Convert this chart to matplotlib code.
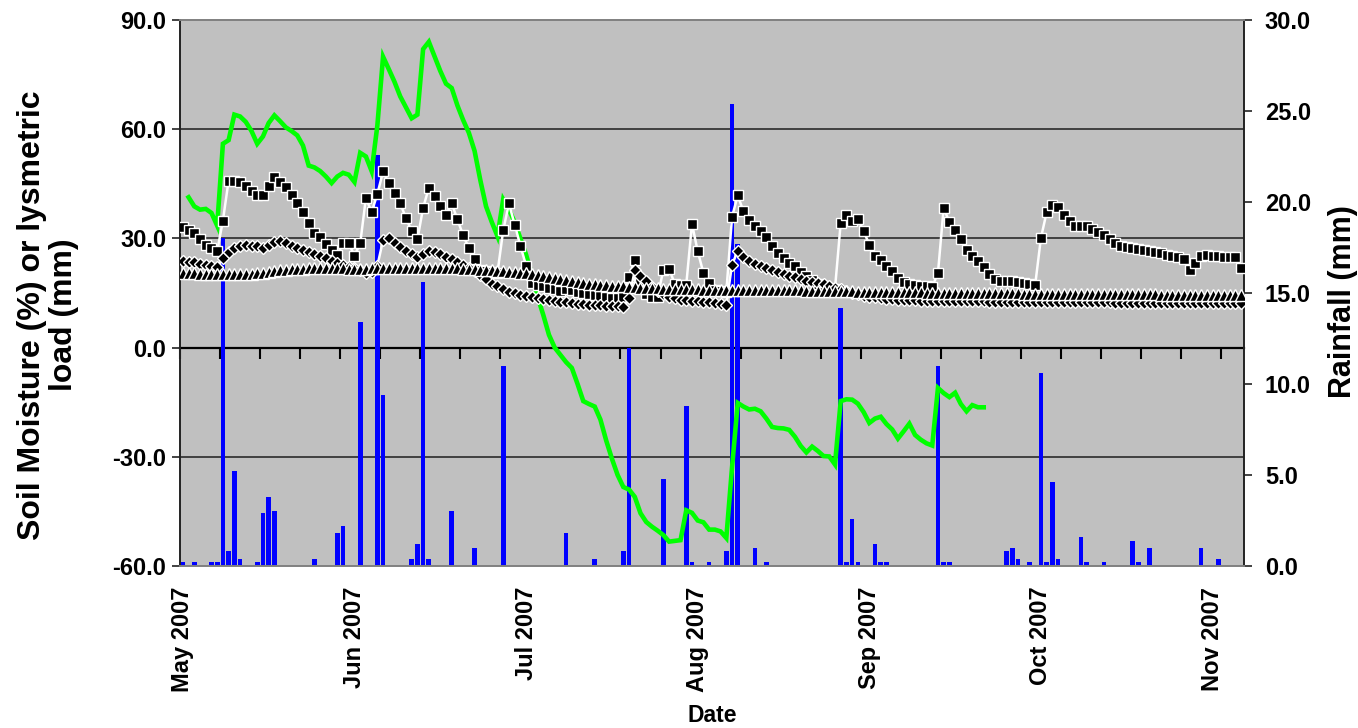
import matplotlib
matplotlib.use('Agg')
import matplotlib.pyplot as plt
import numpy as np
from matplotlib.lines import Line2D
from matplotlib.transforms import blended_transform_factory

# ---------------- data ----------------
n_days = 186  # daily categories starting 1 May 2007
day_index = list(range(n_days))
xtick_pos = [0, 30, 60, 90, 120, 150, 180]
xtick_labels = ["May 2007", "Jun 2007", "Jul 2007", "Aug 2007", "Sep 2007", "Oct 2007", "Nov 2007"]

rain_days = [0, 2, 5, 6, 7, 8, 9, 10, 13, 14, 15, 16, 23, 27, 28, 31, 34, 35, 40, 41, 42, 43,
             47, 51, 56, 67, 72, 77, 78, 84, 88, 89, 92, 95, 96, 97, 100, 102, 115, 116, 117,
             118, 121, 122, 123, 132, 133, 134, 144, 145, 146, 148, 150, 151, 152, 153, 157,
             158, 161, 166, 167, 169, 178, 181]
rain_mm = [0.2, 0.2, 0.2, 0.2, 18.0, 0.8, 5.2, 0.4, 0.2, 2.9, 3.8, 3.0, 0.4, 1.8, 2.2, 13.4,
           22.6, 9.4, 0.4, 1.2, 15.6, 0.4, 3.0, 1.0, 11.0, 1.8, 0.4, 0.8, 12.0, 4.8, 8.8, 0.2,
           0.2, 0.8, 25.4, 17.7, 1.0, 0.2, 14.2, 0.2, 2.6, 0.2, 1.2, 0.2, 0.2, 11.0, 0.2, 0.2,
           0.8, 1.0, 0.4, 0.2, 10.6, 0.2, 4.6, 0.4, 1.6, 0.2, 0.2, 1.4, 0.2, 1.0, 1.0, 0.4]

lys_days = list(range(1, 141))
lys_load = [41.3, 38.8, 37.9, 38.1, 37.0, 33.5, 56.0, 57.0, 64.0, 63.5,
            62.0, 59.5, 56.0, 58.0, 61.7, 63.8, 62.2, 60.5, 59.5, 58.3,
            55.5, 50.0, 49.5, 48.5, 47.0, 45.2, 47.0, 48.0, 47.5, 45.5,
            53.5, 52.5, 48.5, 61.0, 79.9, 76.5, 73.0, 69.0, 66.0, 63.0,
            64.0, 82.0, 84.0, 80.0, 76.0, 72.5, 71.3, 66.5, 62.5, 59.0,
            54.0, 46.0, 38.8, 34.5, 30.6, 40.7, 37.9, 34.5, 30.0, 25.5,
            20.0, 14.0, 9.0, 3.5, 0.0, -2.0, -4.0, -5.6, -10.0, -14.7,
            -15.5, -16.2, -19.8, -25.5, -30.5, -35.0, -38.3, -39.0, -41.0, -45.5,
            -47.9, -49.2, -50.3, -51.5, -53.3, -53.1, -52.9, -44.7, -45.4, -47.5,
            -48.0, -50.0, -50.0, -50.5, -52.3, -33.0, -15.2, -16.2, -17.0, -16.8,
            -17.5, -19.5, -21.8, -22.1, -22.2, -22.6, -24.5, -27.0, -28.8, -27.2,
            -28.4, -29.8, -29.9, -32.1, -14.7, -14.2, -14.3, -15.4, -17.7, -20.7,
            -19.5, -19.0, -21.0, -22.5, -25.0, -23.0, -20.9, -24.0, -25.3, -26.3,
            -26.9, -11.1, -12.5, -13.6, -12.4, -15.5, -17.5, -15.8, -16.4, -16.4]

sm_squares = [33.0, 32.4, 31.5, 29.9, 28.3, 27.4, 26.5, 34.9, 45.9, 45.9,
              45.5, 44.3, 43.0, 42.0, 42.0, 44.3, 46.9, 45.5, 44.1, 42.0,
              39.7, 37.2, 34.1, 31.5, 30.4, 28.5, 26.9, 25.5, 28.6, 28.6,
              25.3, 28.6, 41.1, 37.2, 42.2, 48.4, 45.2, 42.5, 39.6, 35.6,
              32.0, 29.7, 38.4, 43.9, 41.6, 38.8, 36.5, 39.6, 35.2, 30.8,
              27.4, 24.4, 21.4, 21.0, 20.8, 20.6, 32.2, 39.6, 33.8, 28.0,
              22.5, 17.8, 17.1, 16.8, 16.3, 16.0, 15.5, 16.2, 15.8, 15.2,
              15.0, 14.6, 14.4, 14.1, 13.9, 13.7, 13.6, 14.0, 19.5, 24.2,
              18.5, 14.8, 14.0, 14.0, 21.4, 21.6, 17.5, 17.2, 17.3, 34.0,
              26.5, 20.5, 17.8, 15.9, 15.5, 15.2, 35.9, 41.8, 37.4, 35.0,
              33.3, 32.0, 30.4, 27.8, 26.0, 24.6, 23.3, 22.3, 20.7, 19.6,
              18.5, 17.5, 17.0, 16.5, 16.2, 34.3, 36.5, 34.7, 35.4, 32.0,
              28.3, 25.3, 24.2, 22.5, 21.0, 19.1, 17.9, 17.6, 17.3, 17.0,
              16.9, 16.7, 20.5, 38.4, 34.4, 32.2, 29.7, 26.9, 25.1, 23.7,
              22.2, 20.3, 18.9, 18.2, 18.2, 18.2, 17.9, 17.7, 17.6, 17.3,
              30.1, 37.2, 39.3, 38.6, 36.5, 34.7, 33.3, 33.5, 33.3, 32.6,
              31.7, 30.8, 29.9, 28.8, 27.8, 27.6, 27.4, 27.2, 26.9, 26.6,
              26.2, 26.0, 25.5, 25.3, 25.0, 24.4, 21.4, 23.3, 25.3, 25.5,
              25.1, 25.3, 24.8, 24.9, 24.9, 21.9]

sm_diamonds = [23.8, 23.6, 23.4, 23.1, 22.8, 22.5, 22.2,
               24.5, 26.2, 27.5, 28.0, 28.2, 28.0, 27.8, 27.5, 28.3, 29.0, 29.2, 28.6, 28.0,
               27.4, 26.9, 26.3, 25.8, 25.2, 24.5, 23.8, 23.2, 22.6, 22.2,
               21.8, 21.2, 20.6, 20.8, 22.5, 29.5, 30.1, 28.8, 27.6, 26.5,
               25.6, 25.0, 25.8, 26.5, 26.3, 25.7, 25.0, 24.4, 23.6, 22.8,
               21.9, 21.0, 20.0, 18.9, 17.6, 16.8, 16.0, 15.4, 14.9, 14.5,
               14.2, 13.9, 13.6, 13.4, 13.1, 12.8, 12.6, 12.4, 12.2, 12.1,
               12.0, 11.8, 11.7, 11.6, 11.5, 11.4, 11.3, 11.2, 13.6, 21.2,
               19.6, 18.2, 16.6, 15.5, 14.6, 14.0, 13.6, 13.2, 13.0, 12.9,
               12.8, 12.6, 12.4, 12.2, 12.0, 11.8, 22.8, 26.5, 24.9, 23.9,
               23.0, 22.3, 21.8, 21.2, 20.7, 20.2, 19.7, 19.3, 18.9, 18.4,
               18.0, 17.8, 17.4, 17.0, 16.5, 16.0, 15.5, 15.0, 14.6, 14.3,
               14.0, 13.8, 13.6, 13.4, 13.3, 13.2, 13.1, 13.0, 13.0, 12.9,
               12.9, 12.9, 12.8, 12.8, 12.8, 12.8, 12.7, 12.7, 12.7, 12.7,
               12.7, 12.6, 12.6, 12.6, 12.6, 12.6, 12.5, 12.5, 12.5, 12.5,
               12.5, 12.5, 12.5, 12.5, 12.4, 12.4, 12.4, 12.4, 12.4, 12.4,
               12.4, 12.4, 12.4, 12.3, 12.3, 12.3, 12.3, 12.3, 12.3, 12.3,
               12.3, 12.3, 12.3, 12.3, 12.2, 12.2, 12.2, 12.2, 12.2, 12.2,
               12.2, 12.2, 12.2, 12.2, 12.2, 12.2]

sm_triangles = [20.5, 20.4, 20.4, 20.3, 20.3, 20.2, 20.2, 20.1, 20.1, 20.1,
                20.2, 20.2, 20.3, 20.4, 20.6, 20.8, 21.0, 21.2, 21.4, 21.5,
                21.6, 21.7, 21.8, 21.8, 21.9, 21.9, 21.9, 21.8, 21.8, 21.7,
                21.6, 21.6, 21.7, 21.8, 21.9, 22.0, 22.0, 22.0, 22.0, 21.9,
                21.9, 21.9, 21.9, 22.0, 22.0, 22.0, 21.9, 21.9, 21.8, 21.7,
                21.6, 21.5, 21.4, 21.3, 21.2, 21.1, 21.0, 20.9, 20.8, 20.6,
                20.4, 20.2, 20.0, 19.7, 19.4, 19.1, 18.8, 18.5, 18.2, 18.0,
                17.8, 17.6, 17.4, 17.2, 17.1, 17.0, 16.9, 16.8, 16.7, 16.6,
                16.5, 16.4, 16.4, 16.3, 16.2, 16.2, 16.1, 16.1, 16.0, 16.0,
                16.0, 15.9, 15.9, 15.9, 15.8, 15.8, 15.8, 15.8, 15.8, 15.8,
                15.8, 15.8, 15.8, 15.8, 15.7, 15.7, 15.7, 15.7, 15.7, 15.6,
                15.6, 15.6, 15.6, 15.5, 15.5, 15.5, 15.5, 15.5, 15.4, 15.4,
                15.4, 15.4, 15.3, 15.3, 15.3, 15.3, 15.2, 15.2, 15.2, 15.2,
                15.1, 15.1, 15.1, 15.1, 15.1, 15.0, 15.0, 15.0, 15.0, 15.0,
                15.0, 14.9, 14.9, 14.9, 14.9, 14.9, 14.9, 14.8, 14.8, 14.8,
                14.8, 14.8, 14.8, 14.8, 14.7, 14.7, 14.7, 14.7, 14.7, 14.7,
                14.7, 14.7, 14.6, 14.6, 14.6, 14.6, 14.6, 14.6, 14.6, 14.6,
                14.6, 14.5, 14.5, 14.5, 14.5, 14.5, 14.5, 14.5, 14.5, 14.5,
                14.5, 14.5, 14.5, 14.5, 14.5, 14.5]

left_ticks = [-60, -30, 0, 30, 60, 90]
right_ticks = [0, 5, 10, 15, 20, 25, 30]
grid_vals = [-30, 30, 60]

# ---------------- figure ----------------
plt.rcParams['font.family'] = ['Liberation Sans', 'DejaVu Sans']
plt.rcParams['font.weight'] = 'bold'

W, H = 1358, 728
fig = plt.figure(figsize=(W / 100, H / 100), dpi=100, facecolor='white')
ax = fig.add_axes([180 / W, 1 - 566 / H, 1064 / W, 546 / H])
ax2 = ax.twinx()

# lines axis above the bar axis
ax.set_zorder(ax2.get_zorder() + 1)
ax.patch.set_visible(False)
ax2.patch.set_visible(True)
ax2.patch.set_facecolor('#C0C0C0')

ax.set_xlim(-0.5, n_days - 0.5)
ax.set_ylim(-60, 90)
ax2.set_ylim(0, 30)

# gridlines (behind bars) in left-axis units
gtrans = blended_transform_factory(ax2.transAxes, ax.transData)
for g in grid_vals:
    ax2.add_line(Line2D([0, 1], [g, g], transform=gtrans, color='#404040',
                        lw=1.4, zorder=0.5))

# category axis crossing at 0 with tick marks every 7 days
sec = ax2.secondary_xaxis(60 / 150)
sec.set_xticks(np.arange(-0.5, n_days, 7))
sec.tick_params(axis='x', direction='out', length=8, width=1.5, color='black',
                labelbottom=False, labeltop=False)
for s in sec.spines.values():
    s.set_color('black')
    s.set_linewidth(1.6)

# rainfall bars
ax2.bar(rain_days, rain_mm, width=0.82, color='#0000FF', zorder=2)

# lysimetric load
ax.plot(lys_days, lys_load, color='#00FF00', lw=3.3, zorder=3, solid_joinstyle='miter')

# soil moisture series
ax.plot(day_index, sm_squares, color='white', lw=1.8, marker='s', ms=7.6,
        mfc='black', mec='white', mew=1.0, zorder=4)
ax.plot(day_index, sm_diamonds, color='white', lw=1.8, marker='D', ms=5.8,
        mfc='black', mec='white', mew=1.0, zorder=5)
ax.plot(day_index, sm_triangles, color='white', lw=1.8, marker='^', ms=8.0,
        mfc='black', mec='white', mew=1.0, zorder=6)

# axes formatting
ax.set_xticks(xtick_pos)
ax.set_xticklabels(xtick_labels, rotation=90, fontsize=17, fontweight='bold')
ax.tick_params(axis='x', length=0, pad=15)

ax.set_yticks(left_ticks)
ax.set_yticklabels(["%.1f" % v for v in left_ticks], fontsize=17, fontweight='bold')
ax.tick_params(axis='y', direction='out', length=6, width=1.2, pad=4, color='#222222')

ax2.set_yticks(right_ticks)
ax2.set_yticklabels(["%.1f" % v for v in right_ticks], fontsize=17, fontweight='bold')
ax2.tick_params(axis='y', direction='out', length=6, width=1.2, pad=9, color='#222222')

for s in ax2.spines.values():
    s.set_visible(False)
ax.spines['left'].set_color('#222222')
ax.spines['right'].set_color('#222222')
ax.spines['top'].set_color('#808080')
ax.spines['bottom'].set_color('#808080')
for s in ax.spines.values():
    s.set_linewidth(1.4)

fig.text(48 / W, 1 - 315 / H, "Soil Moisture (%) or lysmetric\nload (mm)", rotation=90,
         ha='center', va='center', fontsize=23, fontweight='bold', linespacing=1.05,
         multialignment='center')
fig.text(1343 / W, 1 - 302 / H, "Rainfall (mm)", rotation=90, ha='center', va='center',
         fontsize=22, fontweight='bold')
fig.text(712 / W, 1 - 715 / H, "Date", ha='center', va='center', fontsize=16.5,
         fontweight='bold')

fig.savefig('out.png', dpi=100, facecolor='white')
